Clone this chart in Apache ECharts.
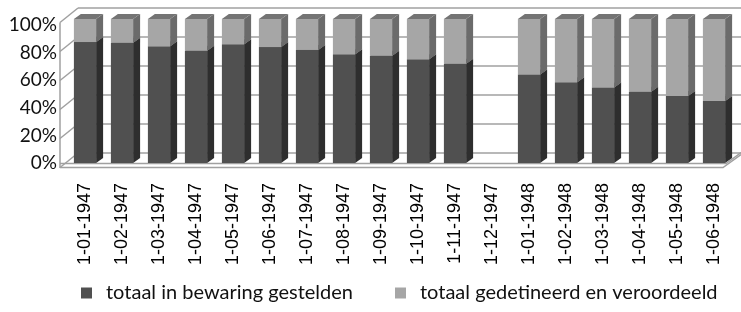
<!DOCTYPE html>
<html><head><meta charset="utf-8">
<script src="https://cdn.jsdelivr.net/npm/echarts@6/dist/echarts.min.js"></script>
<style>html,body{margin:0;padding:0;background:#fff}#c{width:741px;height:312px}</style>
</head><body><div id="c"></div>
<script>
const categories = ['1-01-1947','1-02-1947','1-03-1947','1-04-1947','1-05-1947','1-06-1947','1-07-1947','1-08-1947','1-09-1947','1-10-1947','1-11-1947','1-12-1947','1-01-1948','1-02-1948','1-03-1948','1-04-1948','1-05-1948','1-06-1948'];
const bewaring = [84, 83.5, 81, 78, 82.5, 80.5, 78.5, 75.5, 74.5, 72, 69, null, 61.5, 56, 52.5, 49.5, 46.5, 43];
const gedetineerd = [16, 16.5, 19, 22, 17.5, 19.5, 21.5, 24.5, 25.5, 28, 31, null, 38.5, 44, 47.5, 50.5, 53.5, 57];
const yTicks = [0, 20, 40, 60, 80, 100];
const seriesNames = ['totaal in bewaring gestelden', 'totaal gedetineerd en veroordeeld'];

const chart = echarts.init(document.getElementById('c'));
const DX = 7, DY = -5;
function render3D(front, side, top) {
  return function (params, api) {
    const i = api.value(0), b = api.value(1), t = api.value(2);
    if (t == null || isNaN(t)) return;
    const p0 = api.coord([i, b]), p1 = api.coord([i, t]);
    const w = api.size([1, 0])[0] * 0.6;
    const x0 = p0[0] - w / 2, x1 = p0[0] + w / 2;
    const yb = p0[1], yt = p1[1];
    return {
      type: 'group', children: [
        { type: 'polygon', shape: { points: [[x1, yb], [x1 + DX, yb + DY], [x1 + DX, yt + DY], [x1, yt]] }, style: { fill: side } },
        { type: 'polygon', shape: { points: [[x0, yt], [x1, yt], [x1 + DX, yt + DY], [x0 + DX, yt + DY]] }, style: { fill: top } },
        { type: 'rect', shape: { x: x0, y: yt, width: w, height: yb - yt }, style: { fill: front } }
      ]
    };
  };
}
const darkData = categories.map((c, i) => bewaring[i] == null ? [i, 0, null] : [i, 0, bewaring[i]]);
const lightData = categories.map((c, i) => bewaring[i] == null ? [i, 0, null] : [i, bewaring[i], bewaring[i] + gedetineerd[i]]);

chart.setOption({
  animation: false,
  color: ['#505050', '#a6a6a6'],
  legend: {
    left: 76, top: 278, itemWidth: 11, itemHeight: 11, itemGap: 42, icon: 'rect',
    textStyle: { fontFamily: 'Lato', fontSize: 20, color: '#111', padding: [0, 0, 0, 9] },
    data: seriesNames
  },
  grid: [
    { left: 66.5, width: 666, top: 19, height: 144 },
    { left: 78, right: -20, top: 8, height: 145 },
    { left: 58, width: 1, top: 25, height: 138 }
  ],
  xAxis: [
    { type: 'category', gridIndex: 0, data: categories, axisLine: { show: false }, axisTick: { show: false },
      axisLabel: { rotate: 90, margin: 20, fontFamily: 'Liberation Sans', fontSize: 18, color: '#000', interval: 0 } },
    { type: 'value', gridIndex: 1, show: false },
    { type: 'value', gridIndex: 2, show: false }
  ],
  yAxis: [
    { type: 'value', gridIndex: 0, min: 0, max: 100, show: false },
    { type: 'value', gridIndex: 1, min: 0, max: 100, interval: 20, axisLabel: { show: false }, axisLine: { show: false }, axisTick: { show: false },
      splitLine: { lineStyle: { color: '#a0a0a0', width: 1.5 } } },
    { type: 'value', gridIndex: 2, min: 0, max: 100, interval: 20, axisLine: { show: false }, axisTick: { show: false }, splitLine: { show: false },
      axisLabel: { margin: 1, fontFamily: 'Lato', fontSize: 19, color: '#111', formatter: v => yTicks.includes(v) ? v + '%' : '' } }
  ],
  series: [
    { name: seriesNames[0], type: 'custom', xAxisIndex: 0, yAxisIndex: 0, renderItem: render3D('#505050', '#2e2e2e', '#5e5e5e'), data: darkData, encode: { x: 0, y: [1, 2] }, z: 3 },
    { name: seriesNames[1], type: 'custom', xAxisIndex: 0, yAxisIndex: 0, renderItem: render3D('#a6a6a6', '#6b6b6b', '#747474'), data: lightData, encode: { x: 0, y: [1, 2] }, z: 4 }
  ]
});

// walls derived from the back-wall grid
const WX = -18, WY = 14.5;
const lines = [];
const st = { stroke: '#a0a0a0', lineWidth: 1.5, fill: null };
yTicks.forEach(v => {
  const p = chart.convertToPixel({ gridIndex: 1 }, [0, v]);
  lines.push({ type: 'polyline', shape: { points: [[p[0] + WX, p[1] + WY], [p[0], p[1]]] }, style: st, silent: true });
});
const pTop = chart.convertToPixel({ gridIndex: 1 }, [0, 100]);
const pBot = chart.convertToPixel({ gridIndex: 1 }, [0, 0]);
const fx = pTop[0] + WX;
lines.push({ type: 'polyline', shape: { points: [[fx, pTop[1] + WY], [fx, pBot[1] + WY + 0.5]] }, style: st, silent: true });
const fr = chart.convertToPixel({ gridIndex: 0 }, [17, 0]);
const fy = fr[1] + 0.5;
lines.push({ type: 'polyline', shape: { points: [[fx, fy], [fr[0] + 12, fy], [fr[0] + 30, fy - 13]] }, style: st, silent: true });
lines.push({ type: 'polyline', shape: { points: [[fx, pBot[1] + WY], [fr[0] + 9, pBot[1] + WY], [fr[0] + 27, pBot[1] + WY - 13]] }, style: st, silent: true });
chart.setOption({ graphic: lines.map(l => Object.assign(l, { z: 1 })) });
</script></body></html>
